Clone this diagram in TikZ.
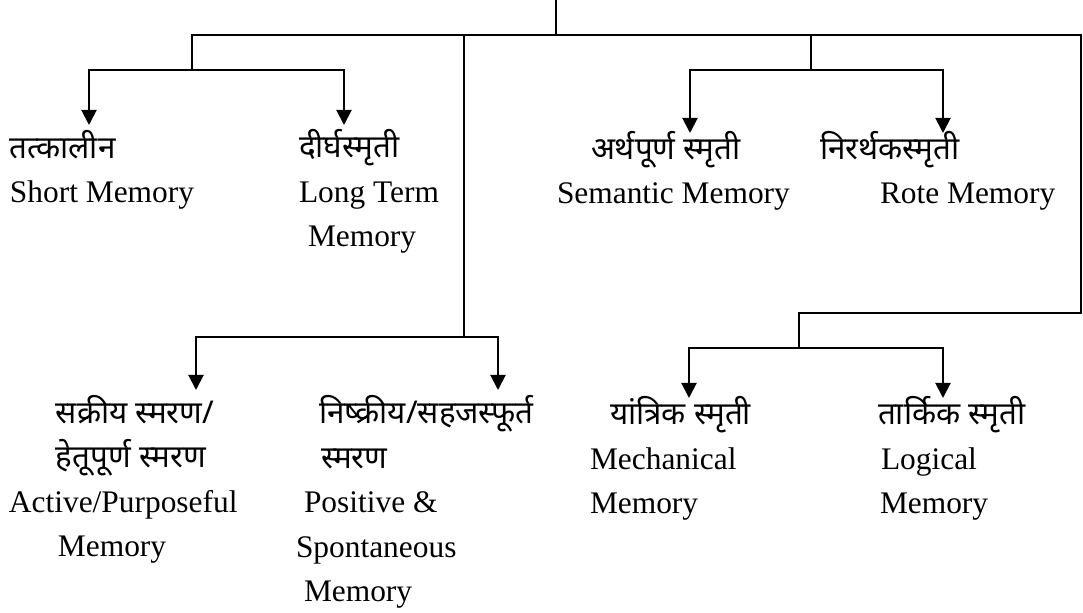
\documentclass[tikz,border=0pt]{standalone}
\usepackage{fontspec}
\setmainfont{Liberation Serif}
\newfontfamily\dev[Script=Devanagari]{Noto Sans}
\usetikzlibrary{arrows.meta}

\begin{document}
\begin{tikzpicture}[x=0.5pt,y=-0.5pt,line width=1pt]
\tikzstyle{lbl} = [anchor=base west, inner sep=0pt, align=left, font={\fontsize{15.7}{22.25}\selectfont\lineskiplimit=-50pt}]
\tikzstyle{arr} = [-{Triangle[width=7.5pt,length=7.5pt]}]
\useasboundingbox (0,0) rectangle (1083,613);
\coordinate (Top) at (556,0);
\coordinate (TopJ) at (556,35);
\coordinate (LJ) at (192,70);
\coordinate (MB) at (464,35);
\coordinate (MJ) at (464,337);
\coordinate (SB) at (811,35);
\coordinate (SJ) at (811,70);
\coordinate (RB) at (1081,35);
\coordinate (RC) at (799,313);
\coordinate (RJ) at (799,348);
\coordinate (LLa) at (89,125);
\coordinate (LRa) at (344,125);
\coordinate (RLa) at (690,133);
\coordinate (RRa) at (943,133);
\coordinate (BLa) at (196,390);
\coordinate (BMa) at (498,390);
\coordinate (BRLa) at (689,398);
\coordinate (BRRa) at (943,398);
\node (LL) [lbl] at (9,203) {{\dev तत्कालीन}\\Short Memory};
\node (LR) [lbl] at (298,247) {{\dev दीर्घस्मृती}\\Long Term\\\hspace*{4.5pt}Memory};
\node (RL) [lbl] at (556,204) {\hspace*{17pt}{\dev अर्थपूर्ण स्मृती}\\Semantic Memory};
\node (RR) [lbl] at (819,204) {{\dev निरर्थकस्मृती}\\\hspace*{30pt}Rote Memory};
\node (BL) [lbl] at (8,557) {\hspace*{23.5pt}{\dev सक्रीय स्मरण/}\\\hspace*{23.5pt}{\dev हेतूपूर्ण स्मरण}\\Active/Purposeful\\\hspace*{24.5pt}Memory};
\node (BM) [lbl] at (295,602) {\hspace*{11.5pt}{\dev निष्क्रीय/सहजस्फूर्त}\\\hspace*{12.5pt}{\dev स्मरण}\\\hspace*{4pt}Positive \&\\Spontaneous\\\hspace*{4pt}Memory};
\node (BRL) [lbl] at (589,514) {\hspace*{10pt}{\dev यांत्रिक स्मृती}\\Mechanical\\Memory};
\node (BRR) [lbl] at (877,514) {{\dev तार्किक स्मृती}\\\hspace*{1.5pt}Logical\\\hspace*{1pt}Memory};
\draw (Top) -- (TopJ);
\draw (LJ) |- (RB) |- (RC) -- (RJ);
\draw[arr] (LJ) -| (LLa);
\draw[arr] (LJ) -| (LRa);
\draw (MB) -- (MJ);
\draw[arr] (MJ) -| (BLa);
\draw[arr] (MJ) -| (BMa);
\draw (SB) -- (SJ);
\draw[arr] (SJ) -| (RLa);
\draw[arr] (SJ) -| (RRa);
\draw[arr] (RJ) -| (BRLa);
\draw[arr] (RJ) -| (BRRa);
\end{tikzpicture}
\end{document}
